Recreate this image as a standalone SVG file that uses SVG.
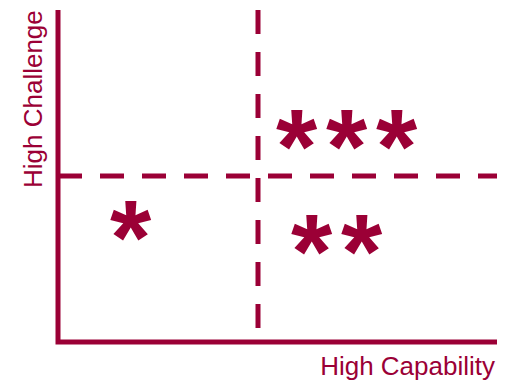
<svg xmlns="http://www.w3.org/2000/svg" width="508" height="381" viewBox="0 0 508 381">
<style>
.ax{stroke:#9B0036;stroke-width:5;fill:none}
.dash{stroke:#9B0036;stroke-width:5;fill:none;stroke-dasharray:24 18}
.lbl{font-family:"Liberation Sans",Arial,sans-serif;font-size:26px;fill:#9B0036}
.star{font-family:"Liberation Sans",Arial,sans-serif;font-size:106px;font-weight:bold;letter-spacing:8.8px;fill:#9B0036}
</style>
<rect width="508" height="381" fill="#fff"/>
<g id="connectors">
<path class="ax" d="M58 10 V342 H497"/>
<path class="dash" d="M58 176 H497"/>
<path class="dash" d="M258 10 V330"/>
</g>
<g id="label-x"><text class="lbl" x="495" y="375" text-anchor="end">High Capability</text></g>
<g id="label-y"><text class="lbl" transform="translate(42,188) rotate(-90)">High Challenge</text></g>
<g id="one-star"><text class="star" x="110" y="274">*</text></g>
<g id="three-star"><text class="star" x="276" y="183">***</text></g>
<g id="two-star"><text class="star" x="291" y="288">**</text></g>
</svg>
